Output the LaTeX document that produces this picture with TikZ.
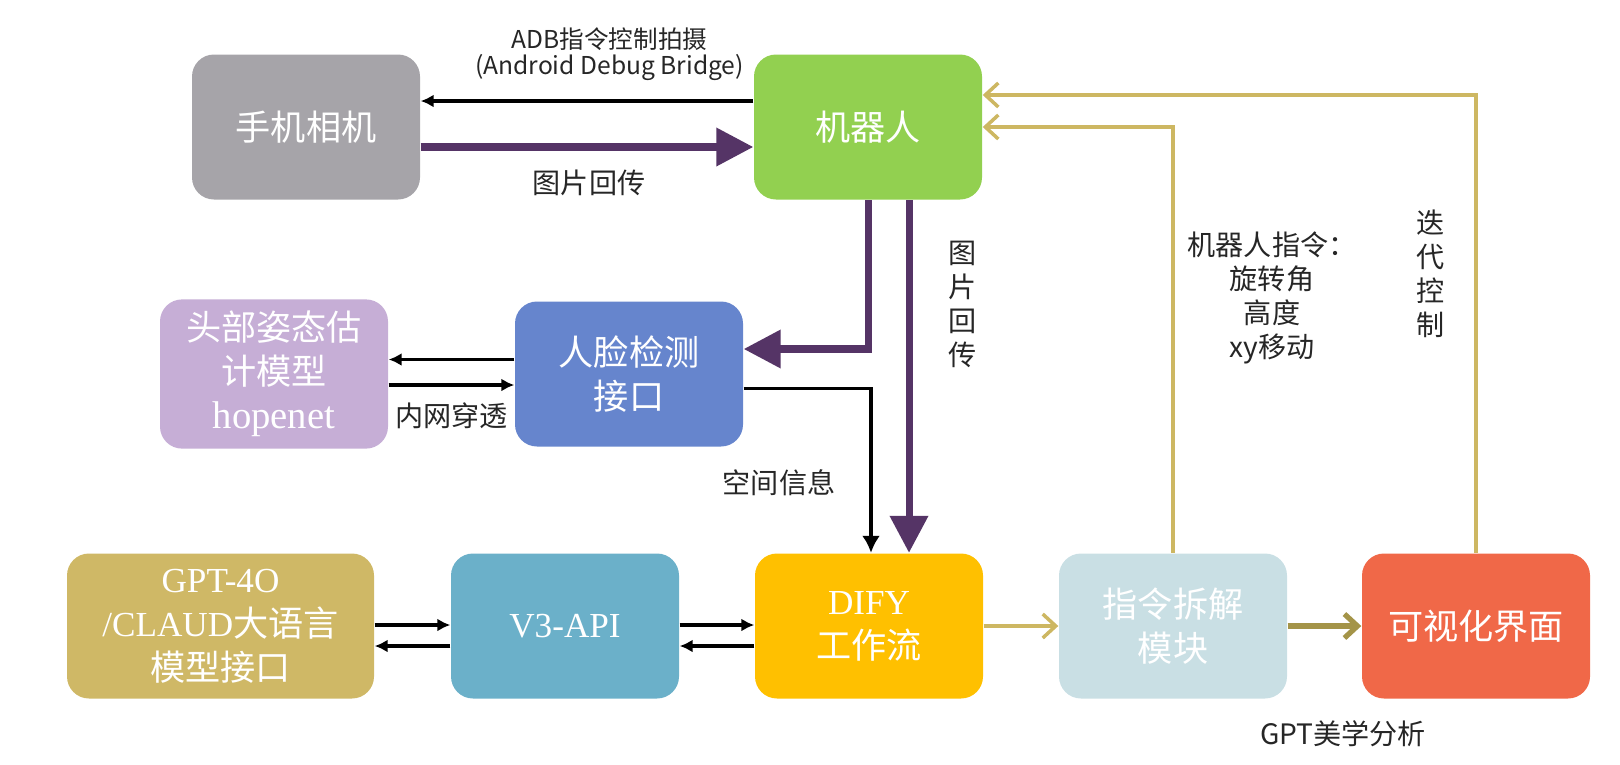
\documentclass[tikz,border=0pt]{standalone}
\usepackage{fontspec}
\setmainfont{Liberation Serif}
\newfontfamily\zhfont{Noto Sans CJK SC}
\usepackage{tikz}
\usetikzlibrary{arrows.meta,calc}

\definecolor{camgray}{HTML}{A6A4A9}
\definecolor{robotgreen}{HTML}{92D050}
\definecolor{poselilac}{HTML}{C6AED6}
\definecolor{faceblue}{HTML}{6685CD}
\definecolor{llmgold}{HTML}{CFB866}
\definecolor{apiblue}{HTML}{6BB0C9}
\definecolor{difyyellow}{HTML}{FFC000}
\definecolor{splitblue}{HTML}{C9DFE4}
\definecolor{uired}{HTML}{F06848}
\definecolor{picpurple}{HTML}{553466}
\definecolor{ctrlgold}{HTML}{CDB762}
\definecolor{ctrldark}{HTML}{A49448}

\tikzset{
  box/.style={rounded corners=0.22cm, minimum width=2.28cm, minimum height=1.45cm,
    text=white, align=center, font=\fontsize{10}{12.5}\selectfont},
  lbl/.style={font=\zhfont\fontsize{8}{9.7}\selectfont, text=black!85, align=center},
  blackline/.style={draw=black, line width=1.1pt, -{Latex[length=0.13cm,width=0.13cm]}},
  big/.style={draw=picpurple, line width=2pt, -{Triangle[length=0.37cm,width=0.37cm]}},
  gold/.style={draw=ctrlgold, line width=1pt, -{Straight Barb[length=0.13cm,width=0.24cm]}}
}

\begin{document}
\begin{tikzpicture}

\useasboundingbox (0,0) rectangle (16.2,7.64);

\node[box, fill=camgray] (cam) at (3.06, 6.37) {{\zhfont 手机相机}};
\node[box, fill=robotgreen] (robot) at (8.68, 6.37) {{\zhfont 机器人}};
\node[box, fill=poselilac] (pose) at (2.74, 3.90) {{\zhfont 头部姿态估}\\{\zhfont 计模型}\\{\fontsize{11}{12.5}\selectfont hopenet}};
\node[box, fill=faceblue] (face) at (6.29, 3.90) {{\zhfont 人脸检测}\\{\zhfont 接口}};
\node[box, fill=llmgold, minimum width=3.07cm] (llm) at (2.205, 1.38) {GPT-4O\\/CLAUD{\zhfont 大语言}\\{\zhfont 模型接口}};
\node[box, fill=apiblue] (api) at (5.65, 1.38) {V3-API};
\node[box, fill=difyyellow] (dify) at (8.69, 1.38) {DIFY\\{\zhfont 工作流}};
\node[box, fill=splitblue] (split) at (11.73, 1.38) {{\zhfont 指令拆解}\\{\zhfont 模块}};
\node[box, fill=uired] (ui) at (14.76, 1.38) {{\zhfont 可视化界面}};

\draw[blackline] ($(robot.west)+(0,0.26)$) -- ($(cam.east)+(0,0.26)$);
\draw[big] ($(cam.east)+(0,-0.20)$) -- ($(robot.west)+(0,-0.20)$);
\draw[big] (robot.south) |- ($(face.east)+(0,0.25)$);
\draw[big] ($(robot.south)+(0.41,0)$) -- ($(dify.north)+(0.40,0)$);

\draw[blackline] ($(face.west)+(0,0.145)$) -- ($(pose.east)+(0,0.145)$);
\draw[blackline] ($(pose.east)+(0,-0.11)$) -- ($(face.west)+(0,-0.11)$);
\draw[blackline, line width=0.9pt, -{Latex[length=0.17cm,width=0.18cm]}] ($(face.east)+(0,-0.145)$) -| ($(dify.north)+(0.02,0)$);

\draw[blackline] ($(llm.east)+(0,0.01)$) -- ($(api.west)+(0,0.01)$);
\draw[blackline] ($(api.west)+(0,-0.20)$) -- ($(llm.east)+(0,-0.20)$);
\draw[blackline] ($(api.east)+(0,0.01)$) -- ($(dify.west)+(0,0.01)$);
\draw[blackline] ($(dify.west)+(0,-0.20)$) -- ($(api.east)+(0,-0.20)$);

\draw[gold] (dify.east) -- (split.west);
\draw[gold, draw=ctrldark, line width=1.5pt] (split.east) -- (ui.west);
\draw[gold] (split.north) |- (robot.east);
\draw[gold] (ui.north) |- ($(robot.east)+(0,0.32)$);

\node[lbl, font=\zhfont\fontsize{7}{8.4}\selectfont] (adb) at (6.095, 7.25) {ADB指令控制拍摄};
\node[lbl, font=\zhfont\fontsize{7}{8.4}\selectfont] (adbname) at (6.095, 6.96) {(Android Debug Bridge)};
\node[lbl] (picback) at (5.89, 5.81) {图片回传};
\node[lbl] (picdown) at (9.63, 4.595) {图\\片\\回\\传};
\node[lbl] (tunnel) at (4.515, 3.48) {内网穿透};
\node[lbl] (space) at (7.79, 2.815) {空间信息};
\node[lbl] (cmd) at (12.72, 4.66) {机器人指令：\\旋转角\\高度\\xy移动};
\node[lbl] (iter) at (14.31, 4.90) {迭\\代\\控\\制};
\node[lbl] (aesth) at (13.43, 0.305) {GPT美学分析};

\end{tikzpicture}
\end{document}
